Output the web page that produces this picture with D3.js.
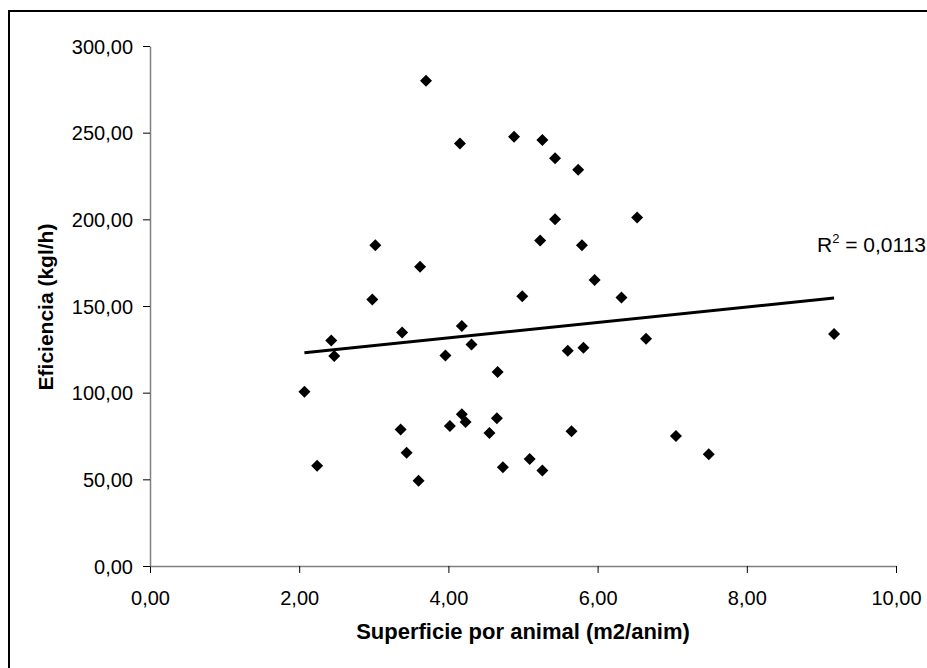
<!DOCTYPE html>
<html><head><meta charset="utf-8">
<script src="https://cdn.jsdelivr.net/npm/d3@7"></script>
<style>html,body{margin:0;padding:0;background:#fff;overflow:hidden}</style>
</head><body>
<script>
const superficie = [2.07,2.24,2.43,2.47,2.98,3.02,3.36,3.38,3.44,3.60,3.62,3.70,3.96,4.02,4.155,4.18,4.18,4.23,4.31,4.55,4.65,4.66,4.73,4.88,4.99,5.09,5.23,5.26,5.26,5.43,5.43,5.60,5.65,5.74,5.79,5.81,5.96,6.32,6.53,6.65,7.05,7.49,9.17];
const eficiencia = [100.6,57.8,130.1,121.2,153.7,185.1,78.7,134.7,65.4,49.2,172.6,279.9,121.5,80.7,243.8,138.4,87.6,83.1,127.8,76.8,85.3,111.9,56.9,247.7,155.6,61.8,187.8,245.8,55.1,235.2,200.1,124.2,77.7,228.6,185.1,125.9,165.0,154.9,201.1,131.1,75.0,64.5,133.8];
const xTicks = [0,2,4,6,8,10];
const yTicks = [0,50,100,150,200,250,300];
const xTitle = "Superficie por animal (m2/anim)";
const yTitle = "Eficiencia (kgl/h)";
const r2Label = "0,0113";

const W = 927, H = 668;
const FONT = "Arial, 'Liberation Sans', sans-serif";
const svg = d3.select("body").append("svg").attr("width", W).attr("height", H)
  .style("font-family", FONT);

svg.append("rect").attr("x", 9).attr("y", 11).attr("width", 940).attr("height", 700)
  .attr("fill", "#fff").attr("stroke", "#000").attr("stroke-width", 2);

const x = d3.scaleLinear().domain([0, 10]).range([150, 896]);
const y = d3.scaleLinear().domain([0, 300]).range([566, 46]);
const fmt = d => d3.format(".2f")(d).replace(".", ",");

const gx = svg.append("g").attr("transform", "translate(0,566)")
  .call(d3.axisBottom(x).tickValues(xTicks).tickFormat(fmt).tickSize(7).tickSizeOuter(0));
const gy = svg.append("g").attr("transform", "translate(150,0)")
  .call(d3.axisLeft(y).tickValues(yTicks).tickFormat(fmt).tickSize(7).tickSizeOuter(0));
[gx, gy].forEach(g => {
  g.select(".domain").attr("stroke", "#808080").attr("stroke-width", 1.5);
  g.selectAll(".tick line").attr("stroke", "#000");
  g.selectAll(".tick text").attr("font-size", 20).attr("fill", "#000").attr("font-family", FONT);
});
gx.selectAll(".tick text").attr("y", 39).attr("dy", null);
gy.selectAll(".tick text").attr("x", -17).attr("dy", "0.36em");

svg.append("text").attr("x", 523).attr("y", 639).attr("text-anchor", "middle")
  .attr("font-size", 22).attr("font-weight", "bold").text(xTitle);
svg.append("text").attr("transform", "translate(53,307) rotate(-90)").attr("text-anchor", "middle")
  .attr("font-size", 21).attr("font-weight", "bold").text(yTitle);

// linear trend (least squares)
const n = superficie.length;
const mx = d3.mean(superficie), my = d3.mean(eficiencia);
let sxy = 0, sxx = 0;
for (let i = 0; i < n; i++) { sxy += (superficie[i]-mx)*(eficiencia[i]-my); sxx += (superficie[i]-mx)**2; }
const b = sxy / sxx, a = my - b * mx;
const [x0, x1] = d3.extent(superficie);
svg.append("line").attr("x1", x(x0)).attr("y1", y(a + b*x0)).attr("x2", x(x1)).attr("y2", y(a + b*x1))
  .attr("stroke", "#000").attr("stroke-width", 3);

const sym = d3.symbol(d3.symbolSquare, 72)();
svg.append("g").selectAll("path").data(superficie.map((v, i) => [v, eficiencia[i]])).join("path")
  .attr("d", sym).attr("fill", "#000")
  .attr("transform", d => `translate(${x(d[0])},${y(d[1])}) rotate(45)`);

const t = svg.append("text").attr("x", 817).attr("y", 252).attr("font-size", 21).attr("fill", "#000");
t.append("tspan").text("R");
t.append("tspan").attr("font-size", 13).attr("dy", -9).text("2");
t.append("tspan").attr("dy", 9).text(" = " + r2Label);
</script>
</body></html>
